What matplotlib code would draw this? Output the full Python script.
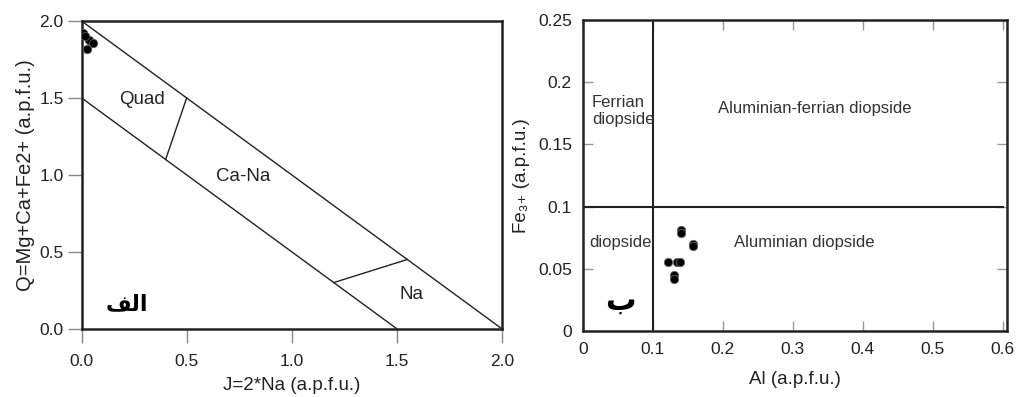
import matplotlib
matplotlib.use("Agg")
import matplotlib.pyplot as plt

plt.rcParams['font.family'] = ['Liberation Sans', 'DejaVu Sans']

# --- left panel: Q-J diagram ---
outer_J = [0.0, 2.0]
outer_Q = [2.0, 0.0]
inner_J = [0.0, 1.5]
inner_Q = [1.5, 0.0]
quad_J = [0.5, 0.4]
quad_Q = [1.5, 1.1]
na_J = [1.55, 1.2]
na_Q = [0.45, 0.3]

pts_J = [0.008, 0.036, 0.052, 0.027, 0.015]
pts_Q = [1.92, 1.875, 1.86, 1.82, 1.90]

# --- right panel: Al vs Fe3+ ---
al = [0.140, 0.140, 0.157, 0.157, 0.121, 0.134, 0.139, 0.130, 0.130]
fe3 = [0.081, 0.0785, 0.070, 0.068, 0.0556, 0.0556, 0.0556, 0.045, 0.042]

fig = plt.figure(figsize=(10.2, 3.97), dpi=100)

# left
ax1 = fig.add_axes([0.080, 0.172, 0.412, 0.775])
ax1.plot(outer_J, outer_Q, color='#222222', lw=1.0)
ax1.plot(inner_J, inner_Q, color='#222222', lw=1.0)
ax1.plot(quad_J, quad_Q, color='#222222', lw=1.0)
ax1.plot(na_J, na_Q, color='#222222', lw=1.0)
ax1.scatter(pts_J, pts_Q, s=36, color='black', edgecolor='#555555', lw=0.6, zorder=3)
ax1.set_xlim(0, 2.0)
ax1.set_ylim(0, 2.0)
ax1.set_xticks([0.0, 0.5, 1.0, 1.5, 2.0])
ax1.set_yticks([0.0, 0.5, 1.0, 1.5, 2.0])
ax1.tick_params(direction='out', length=10, width=1, color='#888888',
                labelsize=12.5, labelcolor='#222222', pad=3)
ax1.tick_params(axis='x', pad=8)
for sp in ax1.spines.values():
    sp.set_linewidth(1.8)
    sp.set_color('#222222')
ax1.set_xlabel('J=2*Na (a.p.f.u.)', fontsize=13.5, labelpad=6, color='#222222')
ax1.set_ylabel('Q=Mg+Ca+Fe2+ (a.p.f.u.)', fontsize=14.5, labelpad=3, color='#222222')
ax1.text(0.286, 1.49, 'Quad', fontsize=13.5, ha='center', va='center', color='#222222')
ax1.text(0.77, 0.99, 'Ca-Na', fontsize=13.5, ha='center', va='center', color='#222222')
ax1.text(1.57, 0.22, 'Na', fontsize=13.5, ha='center', va='center', color='#222222')
ax1.text(0.214, 0.16, '\uFED2\uFEDF\uFE8D', fontsize=16, fontweight='bold',
         ha='center', va='center', family=['DejaVu Sans'])

# right
ax2 = fig.add_axes([0.5716, 0.166, 0.4154, 0.7836])
ax2.axvline(0.1, color='#222222', lw=1.5)
ax2.plot([0, 0.6], [0.1, 0.1], color='#222222', lw=1.5)
ax2.scatter(al, fe3, s=36, color='black', edgecolor='#666666', lw=0.6, zorder=3)
ax2.set_xlim(0, 0.606)
ax2.set_ylim(0, 0.25)
ax2.set_xticks([0, 0.1, 0.2, 0.3, 0.4, 0.5, 0.6])
ax2.set_xticklabels(['0', '0.1', '0.2', '0.3', '0.4', '0.5', '0.6'])
ax2.set_yticks([0, 0.05, 0.1, 0.15, 0.2, 0.25])
ax2.set_yticklabels(['0', '0.05', '0.1', '0.15', '0.2', '0.25'])
ax2.tick_params(direction='in', length=7, width=1, color='#999999',
                top=True, right=True, labelsize=12.5, labelcolor='#222222', pad=8)
for sp in ax2.spines.values():
    sp.set_linewidth(1.8)
    sp.set_color('#222222')
ax2.set_xlabel('Al (a.p.f.u.)', fontsize=13.5, labelpad=10, color='#222222')
ax2.set_ylabel('Fe\u2083\u208A (a.p.f.u.)', fontsize=13.5, labelpad=6, color='#222222',
               family=['Liberation Sans', 'DejaVu Sans'])
ax2.text(0.0125, 0.177, 'Ferrian\ndiopside', fontsize=12, ha='left', va='center',
         color='#333333', linespacing=1.2)
ax2.text(0.331, 0.179, 'Aluminian-ferrian diopside', fontsize=12, ha='center',
         va='center', color='#333333')
ax2.text(0.0085, 0.0715, 'diopside', fontsize=12, ha='left', va='center', color='#333333')
ax2.text(0.317, 0.0715, 'Aluminian diopside', fontsize=12, ha='center',
         va='center', color='#333333')
ax2.text(0.054, 0.024, '\uFE8F', fontsize=22, fontweight='bold',
         ha='center', va='center', family=['DejaVu Sans'])

fig.savefig('out.png', dpi=100)
